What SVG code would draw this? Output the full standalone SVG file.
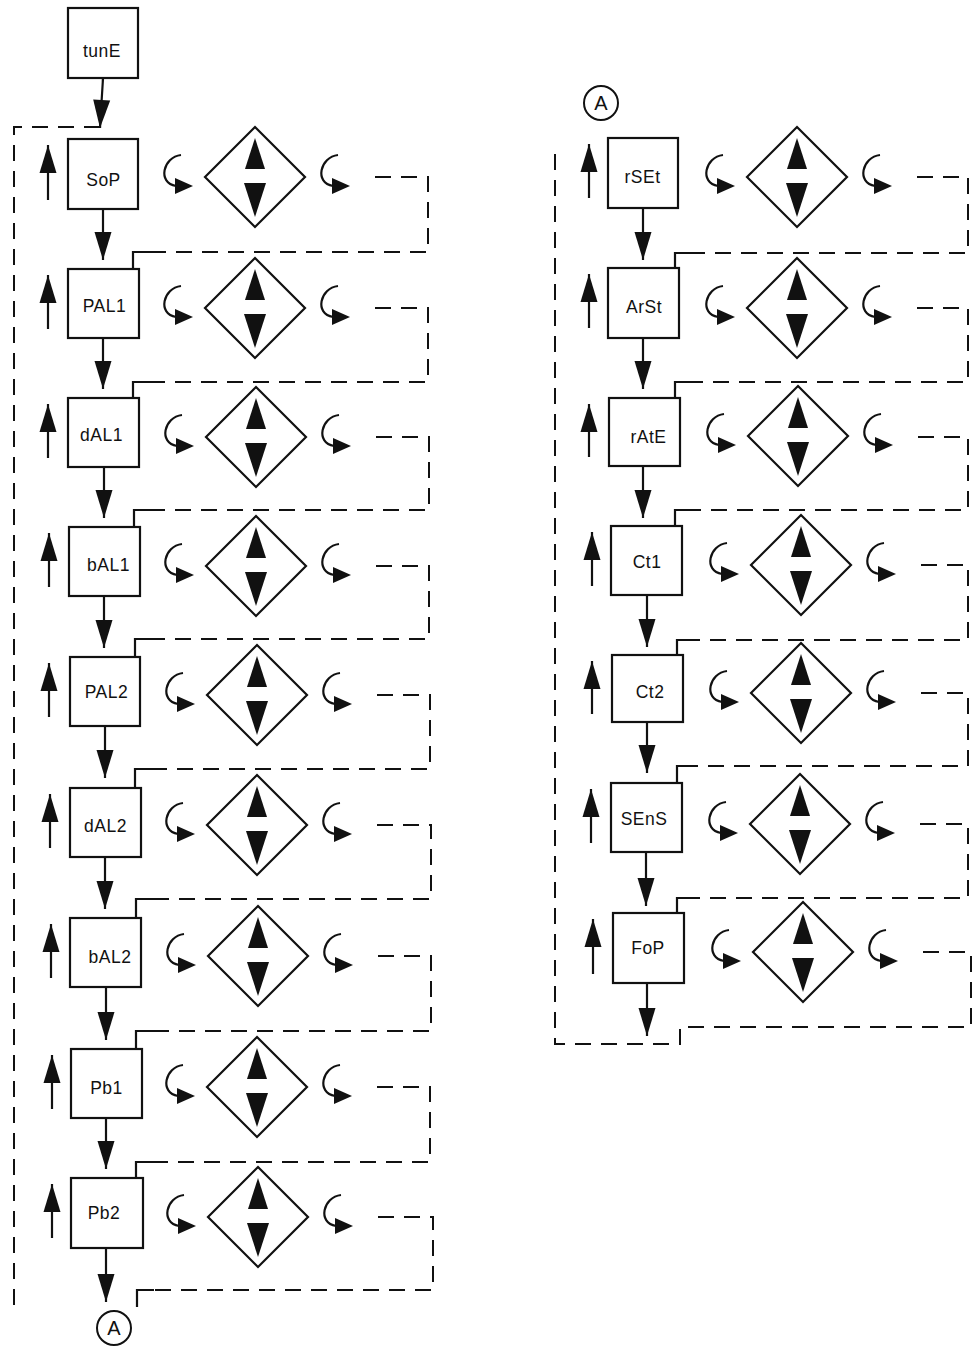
<svg xmlns="http://www.w3.org/2000/svg" xmlns:xlink="http://www.w3.org/1999/xlink" width="972" height="1346" viewBox="0 0 972 1346">
<style>
.box{fill:#fff;stroke:#111;stroke-width:2.2}
.lbl{font-family:"Liberation Sans",Arial,sans-serif;font-size:17.5px;fill:#111;text-anchor:middle;letter-spacing:0.5px}
.dash{fill:none;stroke:#111;stroke-width:2;stroke-dasharray:16 10}
.solid{fill:none;stroke:#111;stroke-width:2.2}
.arr{fill:none;stroke:#111;stroke-width:2.2;marker-end:url(#ah)}
.tri{fill:#111;stroke:none}
.circ{fill:#fff;stroke:#111;stroke-width:2}
.cl{font-family:"Liberation Sans",Arial,sans-serif;font-size:20px;fill:#111;text-anchor:middle}
</style>
<defs>
<marker id="ah" markerUnits="userSpaceOnUse" markerWidth="28" markerHeight="17" refX="28" refY="8.5" orient="auto" overflow="visible">
<path d="M0,0 L28,8.5 L0,17 z" fill="#111"/>
</marker>
<g id="ctrl">
<path class="solid" d="M-74,-22 C-92,-20 -98,6 -79,9"/>
<polygon class="tri" points="-80,1 -62,9 -80,17"/>
<polygon fill="#fff" stroke="#111" stroke-width="2.2" points="0,-50 50,0 0,50 -50,0"/>
<polygon class="tri" points="0,-39 10,-8 -10,-8"/>
<polygon class="tri" points="-11,6 11,6 0,40"/>
<path class="solid" d="M83,-22 C65,-20 59,6 78,9"/>
<polygon class="tri" points="77,1 95,9 77,17"/>
</g>
</defs>
<rect width="972" height="1346" fill="#fff"/>

<g id="connectors">
<path class="arr" d="M103,78 L100,128"/>
<path class="dash" d="M100,127 H14 V1312"/>
<path class="arr" d="M103,209 V260"/>
<path class="arr" d="M103,339 V389"/>
<path class="arr" d="M104,468 V518"/>
<path class="arr" d="M104,597 V648"/>
<path class="arr" d="M105,727 V778"/>
<path class="arr" d="M105,858 V909"/>
<path class="arr" d="M106,988 V1040"/>
<path class="arr" d="M106,1119 V1169"/>
<path class="arr" d="M106,1248 V1302"/>
<path class="arr" d="M48,200 V145"/>
<path class="arr" d="M48,329 V275"/>
<path class="arr" d="M48,458 V404"/>
<path class="arr" d="M49,587 V533"/>
<path class="arr" d="M49,717 V663"/>
<path class="arr" d="M50,848 V794"/>
<path class="arr" d="M51,978 V924"/>
<path class="arr" d="M52,1109 V1055"/>
<path class="arr" d="M52,1238 V1184"/>
<path class="dash" d="M375,177 H428 V252 H150"/><path class="solid" d="M150,252 H133 V269"/>
<path class="dash" d="M375,308 H428 V382 H150"/><path class="solid" d="M150,382 H133 V398"/>
<path class="dash" d="M376,437 H429 V510 H151"/><path class="solid" d="M151,510 H134 V527"/>
<path class="dash" d="M376,566 H429 V639 H152"/><path class="solid" d="M152,639 H135 V657"/>
<path class="dash" d="M377,695 H430 V769 H152"/><path class="solid" d="M152,769 H135 V788"/>
<path class="dash" d="M377,825 H431 V899 H153"/><path class="solid" d="M153,899 H136 V918"/>
<path class="dash" d="M378,956 H431 V1031 H153"/><path class="solid" d="M153,1031 H136 V1049"/>
<path class="dash" d="M377,1087 H430 V1162 H153"/><path class="solid" d="M153,1162 H136 V1178"/>
<path class="dash" d="M378,1217 H433 V1290 H154"/><path class="solid" d="M154,1290 H137 V1307"/>
<path class="arr" d="M643,208 V260"/>
<path class="arr" d="M643,338 V389"/>
<path class="arr" d="M643,467 V518"/>
<path class="arr" d="M647,596 V647"/>
<path class="arr" d="M647,723 V773"/>
<path class="arr" d="M646,853 V906"/>
<path class="arr" d="M647,984 V1036"/>
<path class="arr" d="M589,198 V144"/>
<path class="arr" d="M589,328 V274"/>
<path class="arr" d="M589,457 V404"/>
<path class="arr" d="M592,586 V532"/>
<path class="arr" d="M592,714 V661"/>
<path class="arr" d="M591,843 V789"/>
<path class="arr" d="M593,974 V919"/>
<path class="dash" d="M917,177 H968 V253 H692"/><path class="solid" d="M692,253 H675 V268"/>
<path class="dash" d="M917,308 H968 V382 H692"/><path class="solid" d="M692,382 H675 V398"/>
<path class="dash" d="M918,437 H968 V510 H692"/><path class="solid" d="M692,510 H675 V526"/>
<path class="dash" d="M921,565 H968 V640 H694"/><path class="solid" d="M694,640 H677 V655"/>
<path class="dash" d="M921,693 H968 V766 H694"/><path class="solid" d="M694,766 H677 V783"/>
<path class="dash" d="M920,824 H968 V898 H694"/><path class="solid" d="M694,898 H677 V913"/>
<path class="dash" d="M923,952 H971 V1027 H680 V1044 H555 V145"/>
</g>

<g id="tunE"><rect class="box" x="68" y="8" width="70" height="70"/><text class="lbl" x="102" y="57">tunE</text></g>

<g id="SoP"><rect class="box" x="68" y="139" width="70" height="70"/><text class="lbl" x="103.5" y="186">SoP</text><use xlink:href="#ctrl" x="255" y="177"/></g>
<g id="PAL1"><rect class="box" x="68" y="269" width="71" height="69"/><text class="lbl" x="104.5" y="312">PAL1</text><use xlink:href="#ctrl" x="255" y="308"/></g>
<g id="dAL1"><rect class="box" x="68" y="398" width="71" height="69"/><text class="lbl" x="101.5" y="441">dAL1</text><use xlink:href="#ctrl" x="256" y="437"/></g>
<g id="bAL1"><rect class="box" x="69" y="527" width="71" height="69"/><text class="lbl" x="108.5" y="571">bAL1</text><use xlink:href="#ctrl" x="256" y="566"/></g>
<g id="PAL2"><rect class="box" x="70" y="657" width="70" height="69"/><text class="lbl" x="106.5" y="698">PAL2</text><use xlink:href="#ctrl" x="257" y="695"/></g>
<g id="dAL2"><rect class="box" x="70" y="788" width="71" height="69"/><text class="lbl" x="105.5" y="832">dAL2</text><use xlink:href="#ctrl" x="257" y="825"/></g>
<g id="bAL2"><rect class="box" x="70" y="918" width="71" height="69"/><text class="lbl" x="110" y="963">bAL2</text><use xlink:href="#ctrl" x="258" y="956"/></g>
<g id="Pb1"><rect class="box" x="71" y="1049" width="71" height="69"/><text class="lbl" x="106.5" y="1094">Pb1</text><use xlink:href="#ctrl" x="257" y="1087"/></g>
<g id="Pb2"><rect class="box" x="71" y="1178" width="72" height="70"/><text class="lbl" x="104" y="1219">Pb2</text><use xlink:href="#ctrl" x="258" y="1217"/></g>
<g id="A-out"><circle class="circ" cx="114" cy="1328" r="17"/><text class="cl" x="114" y="1335">A</text></g>

<g id="A-in"><circle class="circ" cx="601" cy="103" r="17"/><text class="cl" x="601" y="110">A</text></g>
<g id="rSEt"><rect class="box" x="608" y="138" width="70" height="70"/><text class="lbl" x="642.5" y="183">rSEt</text><use xlink:href="#ctrl" x="797" y="177"/></g>
<g id="ArSt"><rect class="box" x="608" y="268" width="71" height="70"/><text class="lbl" x="644" y="313">ArSt</text><use xlink:href="#ctrl" x="797" y="308"/></g>
<g id="rAtE"><rect class="box" x="609" y="398" width="71" height="68"/><text class="lbl" x="648.5" y="443">rAtE</text><use xlink:href="#ctrl" x="798" y="436"/></g>
<g id="Ct1"><rect class="box" x="611" y="526" width="71" height="69"/><text class="lbl" x="647" y="568">Ct1</text><use xlink:href="#ctrl" x="801" y="565"/></g>
<g id="Ct2"><rect class="box" x="612" y="655" width="71" height="67"/><text class="lbl" x="650" y="698">Ct2</text><use xlink:href="#ctrl" x="801" y="693"/></g>
<g id="SEnS"><rect class="box" x="611" y="783" width="71" height="69"/><text class="lbl" x="644" y="825">SEnS</text><use xlink:href="#ctrl" x="800" y="824"/></g>
<g id="FoP"><rect class="box" x="613" y="913" width="71" height="70"/><text class="lbl" x="648" y="954">FoP</text><use xlink:href="#ctrl" x="803" y="952"/></g>
</svg>
